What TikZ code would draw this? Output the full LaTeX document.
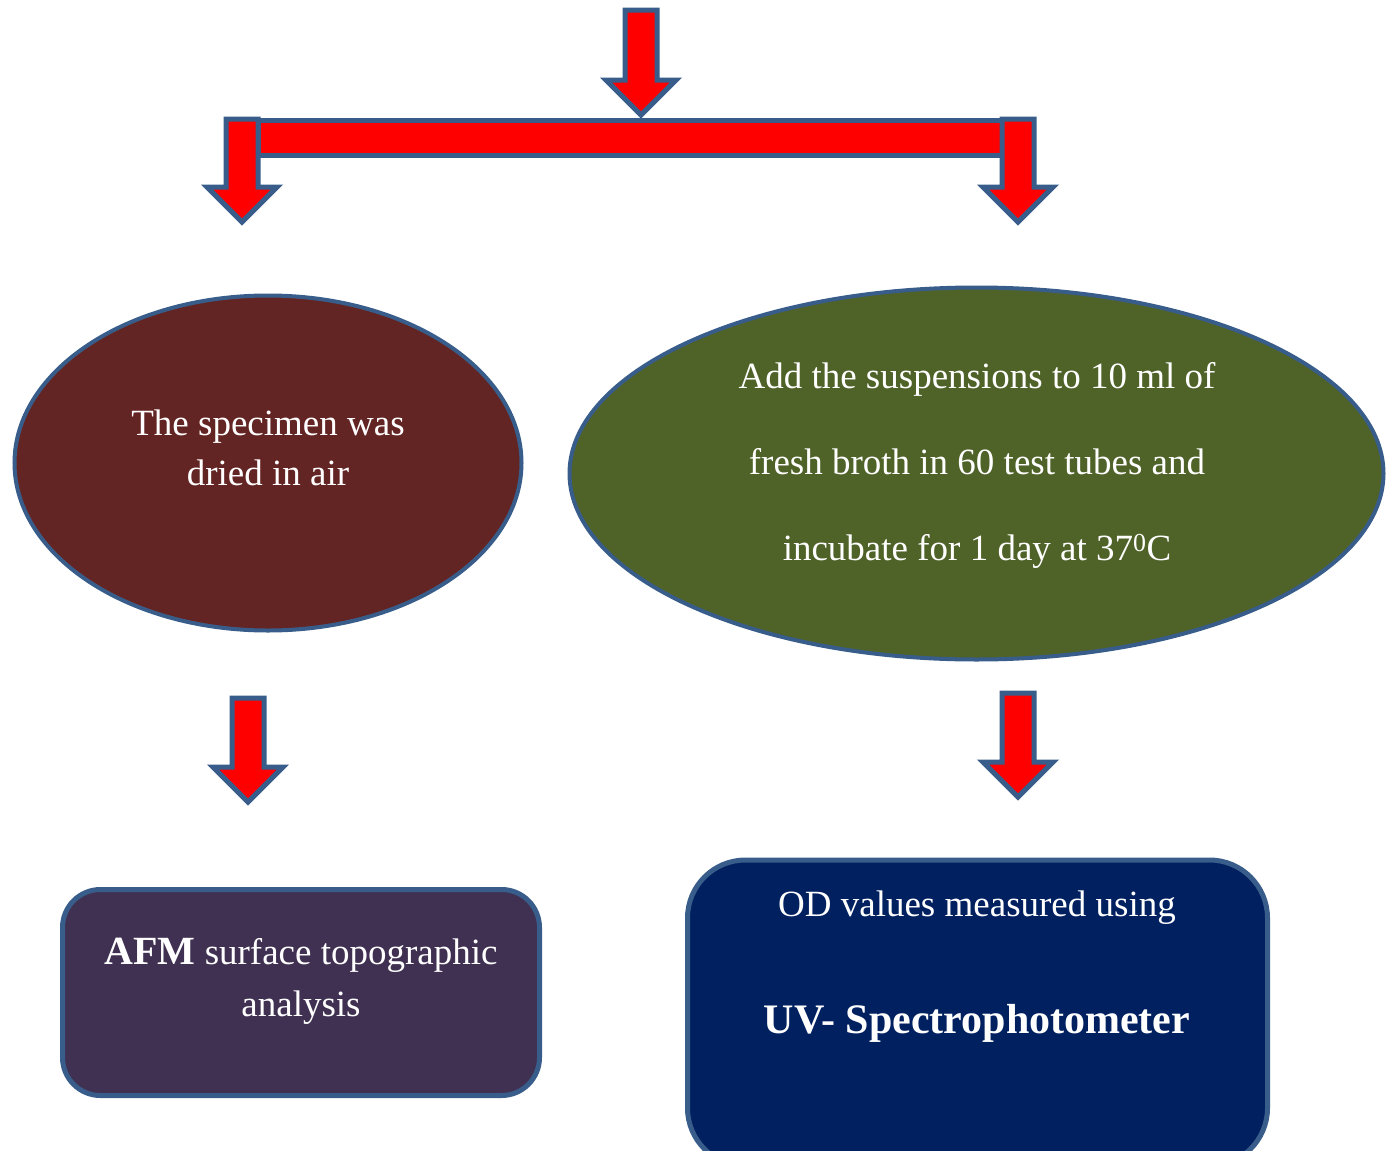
\documentclass[tikz,border=0pt]{standalone}
\usepackage{fontspec}
\setmainfont{Liberation Serif}
\usetikzlibrary{shapes.geometric,positioning}

\definecolor{edgeblue}{RGB}{56,93,138}
\definecolor{arrowred}{RGB}{255,0,0}
\definecolor{dryred}{RGB}{99,37,35}
\definecolor{brothgreen}{RGB}{79,98,40}
\definecolor{afmpurple}{RGB}{64,49,82}
\definecolor{odnavy}{RGB}{0,32,96}

\tikzset{
  arrowline/.style={draw=edgeblue, line width=5pt, fill=arrowred, line join=miter},
  blob/.style={draw=edgeblue, line width=4pt, ellipse, inner sep=0pt},
  roundbox/.style={draw=edgeblue, line width=5pt, rectangle, inner sep=0pt},
  txt/.style={text=white, align=center, font=\fontsize{37}{50}\selectfont},
  % block arrow pointing down, #1 = total length
  pics/downarrow/.style={code={
    \draw[arrowline] (-16,0) -- (-16,#1-35) -- (-35,#1-35) -- (0,#1)
      -- (35,#1-35) -- (16,#1-35) -- (16,0) -- cycle;
  }}
}

\begin{document}
\begin{tikzpicture}[x=1pt, y=-1pt]
  \useasboundingbox (0,0) rectangle (1398,1151);

  % top split
  \draw[arrowline] (258,120) rectangle (1003,155);
  \pic at (641,10) {downarrow=105};
  \pic at (242,119) {downarrow=103};
  \pic at (1018,119) {downarrow=103};

  % the two treatments
  \node[blob, fill=dryred, minimum width=507pt, minimum height=335pt] (dry) at (268,463) {};
  \node[txt] (drytxt) at (268,448) {The specimen was\\dried in air};

  \node[blob, fill=brothgreen, minimum width=814pt, minimum height=372pt] (broth) at (976.5,473.5) {};
  \node[txt, font=\fontsize{37}{86}\selectfont] (brothtxt) at (977,465)
    {Add the suspensions to 10 ml of\\fresh broth in 60 test tubes and\\incubate for 1 day at 37\textsuperscript{0}C};

  \pic at (248,698) {downarrow=104};
  \pic at (1018,693) {downarrow=104};

  % measurements
  \node[roundbox, rounded corners=38pt, fill=afmpurple, minimum width=477pt, minimum height=206pt] (afm) at (301,992.5) {};
  \node[txt, font=\fontsize{37}{52}\selectfont] (afmtxt) at (301,981) {{\fontsize{40}{52}\selectfont\textbf{AFM}} surface topographic\\analysis};

  \node[roundbox, rounded corners=58pt, fill=odnavy, minimum width=580pt, minimum height=306pt] (uv) at (977.5,1013) {};
  \node[txt] (odtxt) at (977,908) {OD values measured using};
  \node[txt, font=\fontsize{42}{50}\selectfont\bfseries] (uvtxt) at (977,1023) {UV- Spectrophotometer};
\end{tikzpicture}
\end{document}
